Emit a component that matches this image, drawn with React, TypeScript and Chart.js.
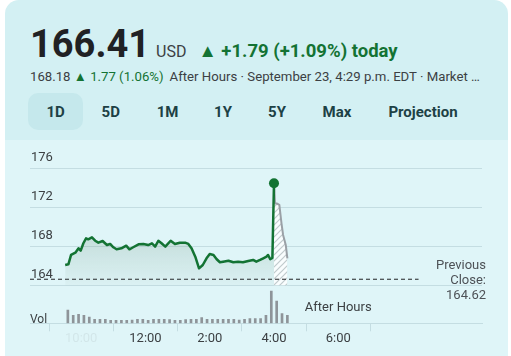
import React, { useEffect, useRef } from 'react';
import { Chart, registerables } from 'chart.js';

Chart.register(...registerables);

// ---- data ----
const SESSION_TIMES = [
  '9:30', '9:36', '9:41', '9:49', '9:55', '9:59', '10:04', '10:09', '10:13', '10:20',
  '10:26', '10:32', '10:40', '10:48', '10:54', '11:00', '11:06', '11:15', '11:24', '11:30',
  '11:37', '11:47', '11:56', '12:05', '12:12', '12:18', '12:24', '12:30', '12:37', '12:47',
  '12:55', '13:04', '13:14', '13:20', '13:26', '13:33', '13:40', '13:47', '13:54', '14:00',
  '14:07', '14:13', '14:19', '14:25', '14:35', '14:44', '14:53', '15:02', '15:12', '15:21',
  '15:27', '15:34', '15:40', '15:46', '15:49', '15:53', '15:57', '16:00',
];
const SESSION_PRICES = [
  166.08, 166.15, 167.11, 167.34, 167.79, 167.55, 168.31, 168.82, 168.72, 168.92,
  168.57, 168.37, 168.54, 168.13, 168.24, 167.9, 167.69, 167.79, 168.06, 167.69,
  167.9, 168.2, 168.24, 168.13, 168.31, 167.96, 168.57, 168.31, 167.96, 168.57,
  168.24, 168.37, 168.37, 168.24, 167.79, 166.93, 165.74, 166.08, 166.77, 167.21,
  167.11, 166.67, 166.36, 166.42, 166.52, 166.36, 166.42, 166.36, 166.49, 166.6,
  166.42, 166.6, 166.77, 166.93, 167.11, 166.67, 166.8, 174.46,
];
const AFTER_TIMES = ['16:00', '16:02', '16:05', '16:10', '16:14', '16:17', '16:22', '16:25'];
const AFTER_PRICES = [174.46, 172.4, 172.4, 172.24, 170.36, 169.16, 168.13, 166.77];

const VOLUME_TIMES = [
  '9:35', '9:45', '9:55', '10:05', '10:15', '10:25', '10:35', '10:45', '10:55', '11:05',
  '11:15', '11:25', '11:35', '11:45', '11:55', '12:05', '12:15', '12:25', '12:35', '12:45',
  '12:55', '13:05', '13:15', '13:25', '13:35', '13:45', '13:55', '14:05', '14:15', '14:25',
  '14:35', '14:45', '14:55', '15:05', '15:15', '15:25', '15:35', '15:45', '15:55',
  '16:05', '16:15', '16:25',
];
// millions of shares
const VOLUMES = [
  1.33, 0.8, 0.9, 0.8, 0.63, 0.4, 0.4, 0.4, 0.3, 0.3,
  0.3, 0.3, 0.33, 0.4, 0.4, 0.3, 0.4, 0.4, 0.4, 0.37,
  0.3, 0.3, 0.37, 0.4, 0.4, 0.57, 0.4, 0.4, 0.4, 0.4,
  0.4, 0.4, 0.33, 0.4, 0.47, 0.47, 0.47, 0.8, 3.23,
  2.23, 0.97, 0.8,
];

const PREVIOUS_CLOSE = 164.62;
const PREVIOUS_CLOSE_END = '20:30';
const PRICE_TICKS = [164, 168, 172, 176];
const TIME_TICKS = [10, 12, 14, 16, 18];
const TIME_LABELS = ['10:00', '12:00', '2:00', '4:00', '6:00'];
const AFTER_HOURS_LABEL_AT = 18;
const TABS = ['1D', '5D', '1M', '1Y', '5Y', 'Max', 'Projection'];
const TAB_CENTERS = [55.7, 110.8, 167.5, 223, 277, 337, 423];

// ---- style constants ----
const HEADER_BG = '#d3f0f3';
const CHART_BG = '#dff5f8';
const TAB_ACTIVE_BG = '#c5e8ec';
const GREEN = '#137333';
const GRID = '#c4dde2';
const TEXT = '#3c4043';

const X_MIN = 8.405;
const X_MAX = 22.475;
const Y_MIN = 160.1;
const Y_MAX = 176;

const toHours = (s: string) => {
  const [h, m] = s.split(':').map(Number);
  return h + m / 60;
};

const labelsPlugin = {
  id: 'extraLabels',
  afterDatasetsDraw(chart: any) {
    const { ctx, chartArea, scales } = chart;
    ctx.save();
    ctx.font = '13px Roboto';
    ctx.fillStyle = '#4d5156';
    ctx.textAlign = 'right';
    ctx.textBaseline = 'middle';
    const yp = scales.y.getPixelForValue(PREVIOUS_CLOSE);
    const xr = chartArea.right + 4;
    ctx.fillText('Previous', xr, yp - 13);
    ctx.fillText('Close:', xr, yp + 1.5);
    ctx.fillText(PREVIOUS_CLOSE.toFixed(2), xr, yp + 16.5);
    ctx.fillStyle = TEXT;
    ctx.textAlign = 'center';
    ctx.fillText('After Hours', scales.x.getPixelForValue(AFTER_HOURS_LABEL_AT), chartArea.bottom - 16);
    ctx.textAlign = 'left';
    ctx.textBaseline = 'alphabetic';
    ctx.font = '12px Roboto';
    ctx.fillText('Vol', chartArea.left, chartArea.bottom);
    ctx.restore();
  },
};

function PriceChart() {
  const ref = useRef<HTMLCanvasElement | null>(null);
  useEffect(() => {
    const canvas = ref.current;
    if (!canvas) return;
    const c2d = canvas.getContext('2d')!;

    const pc = document.createElement('canvas');
    pc.width = 6;
    pc.height = 6;
    const p = pc.getContext('2d')!;
    p.fillStyle = 'rgba(255,255,255,0.8)';
    p.fillRect(0, 0, 6, 6);
    p.strokeStyle = 'rgba(185,195,198,0.9)';
    p.lineWidth = 1.2;
    p.beginPath();
    p.moveTo(0, 6); p.lineTo(6, 0);
    p.moveTo(-1, 1); p.lineTo(1, -1);
    p.moveTo(5, 7); p.lineTo(7, 5);
    p.stroke();
    const hatch = c2d.createPattern(pc, 'repeat');

    const session = SESSION_TIMES.map((t, i) => ({ x: toHours(t), y: SESSION_PRICES[i] }));
    const after = AFTER_TIMES.map((t, i) => ({ x: toHours(t), y: AFTER_PRICES[i] }));
    const vols = VOLUME_TIMES.map((t, i) => ({ x: toHours(t), y: VOLUMES[i] }));
    const prev = [
      { x: X_MIN, y: PREVIOUS_CLOSE },
      { x: toHours(PREVIOUS_CLOSE_END), y: PREVIOUS_CLOSE },
    ];

    Chart.defaults.font.family = 'Roboto, sans-serif';

    const chart = new Chart(canvas, {
      type: 'line',
      data: {
        datasets: [
          {
            data: session,
            borderColor: GREEN,
            borderWidth: 2.5,
            borderJoinStyle: 'round',
            tension: 0,
            pointRadius: (ctx: any) => (ctx.dataIndex === session.length - 1 ? 5 : 0),
            pointBackgroundColor: GREEN,
            pointBorderWidth: 0,
            fill: { value: PRICE_TICKS[0] },
            backgroundColor: (ctx: any) => {
              const ch = ctx.chart;
              if (!ch.chartArea) return 'rgba(0,0,0,0)';
              const top = ch.scales.y.getPixelForValue(169);
              const bot = ch.scales.y.getPixelForValue(164);
              const g = ch.ctx.createLinearGradient(0, top, 0, bot);
              g.addColorStop(0, 'rgba(105,140,115,0.22)');
              g.addColorStop(1, 'rgba(105,140,115,0.03)');
              return g;
            },
            yAxisID: 'y',
          } as any,
          {
            data: prev,
            borderColor: '#202124',
            borderWidth: 1,
            borderDash: [4, 3],
            pointRadius: 0,
            fill: false,
            yAxisID: 'y',
          },
          {
            data: after,
            borderColor: '#9aa0a6',
            borderWidth: 2,
            borderJoinStyle: 'round',
            tension: 0,
            pointRadius: 0,
            fill: { value: PRICE_TICKS[0] },
            backgroundColor: hatch as any,
            yAxisID: 'y',
          } as any,
          {
            type: 'bar',
            data: vols,
            backgroundColor: '#8e9499',
            barThickness: 2,
            yAxisID: 'yv',
          } as any,
        ],
      },
      options: {
        responsive: false,
        animation: false,
        devicePixelRatio: 1,
        layout: { padding: { left: 25, right: 26, top: 28.3, bottom: 0 } },
        plugins: { legend: { display: false }, tooltip: { enabled: false } },
        scales: {
          x: {
            type: 'linear',
            min: X_MIN,
            max: X_MAX,
            offset: false,
            afterBuildTicks: (s: any) => {
              s.ticks = TIME_TICKS.map((v) => ({ value: v }));
            },
            afterFit: (s: any) => {
              s.height = 32.7;
            },
            grid: {
              drawOnChartArea: false,
              drawTicks: true,
              tickLength: 8,
              tickColor: GRID,
              color: GRID,
            },
            border: { display: true, color: GRID, width: 1 },
            ticks: {
              autoSkip: false,
              maxRotation: 0,
              padding: 0,
              font: { size: 13 },
              color: (ctx: any) => (ctx.tick && ctx.tick.value === TIME_TICKS[0] ? 'rgba(60,64,67,0.08)' : TEXT),
              callback: (v: any) => {
                const i = TIME_TICKS.indexOf(Number(v));
                return i >= 0 ? TIME_LABELS[i] : '';
              },
            },
          },
          y: {
            type: 'linear',
            position: 'left',
            min: Y_MIN,
            max: Y_MAX,
            afterBuildTicks: (s: any) => {
              s.ticks = PRICE_TICKS.map((v) => ({ value: v }));
            },
            afterFit: (s: any) => {
              s.width = 0;
            },
            grid: { color: GRID, drawTicks: false, lineWidth: 1 },
            border: { display: false },
            ticks: {
              mirror: true,
              padding: 1,
              labelOffset: -10.5,
              font: { size: 13 },
              color: TEXT,
            },
          },
          yv: {
            type: 'linear',
            display: false,
            min: 0,
            max: 15.5,
          },
        },
      } as any,
      plugins: [labelsPlugin],
    });
    return () => chart.destroy();
  }, []);
  return <canvas ref={ref} width={503} height={216} style={{ display: 'block' }} />;
}

export default function App() {
  return (
    <div
      style={{
        position: 'fixed',
        left: 0,
        top: 0,
        width: 511,
        height: 356,
        background: '#ffffff',
        overflow: 'hidden',
        fontFamily: 'Roboto, sans-serif',
      }}
    >
      <div
        style={{
          position: 'absolute',
          left: 5,
          top: 0,
          width: 503,
          height: 380,
          borderRadius: '14px 14px 0 0',
          background: HEADER_BG,
          overflow: 'hidden',
        }}
      >
        <div style={{ position: 'absolute', left: 0, top: 140, width: 503, height: 240, background: CHART_BG }} />
      </div>

      <div
        style={{
          position: 'absolute',
          left: 30,
          top: 24.7,
          display: 'flex',
          alignItems: 'baseline',
          whiteSpace: 'nowrap',
        }}
      >
        <span style={{ fontSize: 38, fontWeight: 700, color: '#202124', lineHeight: 1 }}>166.41</span>
        <span style={{ fontSize: 16, color: TEXT, marginLeft: 6, lineHeight: 1 }}>USD</span>
        <span style={{ fontSize: 18.5, fontWeight: 700, color: GREEN, marginLeft: 12, lineHeight: 1 }}>
          ▲ +1.79 (+1.09%) today
        </span>
      </div>

      <div
        style={{
          position: 'absolute',
          left: 30,
          top: 69.8,
          fontSize: 13.2,
          lineHeight: 1,
          color: TEXT,
          whiteSpace: 'nowrap',
        }}
      >
        <span>168.18 </span>
        <span style={{ color: GREEN }}>▲ 1.77 (1.06%)</span>
        <span style={{ marginLeft: 6 }}>After Hours · September 23, 4:29 p.m. EDT · Market …</span>
      </div>

      <div
        style={{
          position: 'absolute',
          left: 28,
          top: 93,
          width: 55,
          height: 37,
          borderRadius: 10,
          background: TAB_ACTIVE_BG,
        }}
      />
      {TABS.map((t, i) => (
        <div
          key={t}
          style={{
            position: 'absolute',
            left: TAB_CENTERS[i] - 50,
            top: 93.5,
            width: 100,
            height: 37,
            lineHeight: '37px',
            textAlign: 'center',
            fontSize: 15,
            fontWeight: 700,
            color: '#1d4145',
          }}
        >
          {t}
        </div>
      ))}

      <div style={{ position: 'absolute', left: 5, top: 140 }}>
        <PriceChart />
      </div>
    </div>
  );
}
